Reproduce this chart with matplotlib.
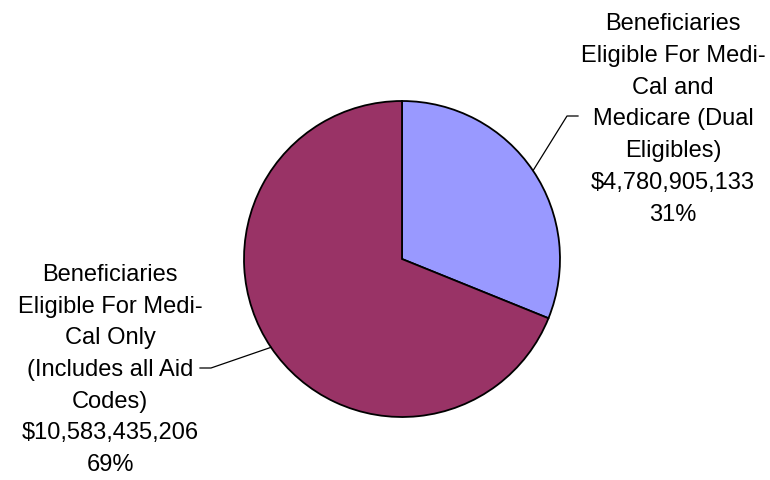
import numpy as np
import matplotlib
matplotlib.use('Agg')
import matplotlib.pyplot as plt

plt.rcParams['font.family'] = ['Liberation Sans', 'DejaVu Sans']

labels = ['Beneficiaries\nEligible For Medi-\nCal and\nMedicare (Dual\nEligibles)',
          'Beneficiaries\nEligible For Medi-\nCal Only\n(Includes all Aid\nCodes)']
amounts = [4780905133, 10583435206]
colors = ['#9999FF', '#993366']

fig = plt.figure(figsize=(7.7, 4.81), dpi=100)
ax = fig.add_axes([0, 0, 1, 1])

cx, cy, r = 402, 221, 158
wedges, _ = ax.pie(amounts, startangle=90, counterclock=False, colors=colors,
                   center=(cx, cy), radius=r,
                   wedgeprops=dict(edgecolor='black', linewidth=1.3))
ax.set_xlim(0, 770)
ax.set_ylim(0, 481)
ax.set_aspect('equal')
ax.axis('off')

total = sum(amounts)
# label anchor (elbow x, elbow y, end x, text x, text y)
label_pos = [(567, 364, 578, 673, 361.5),
             (211, 112, 200, 110, 111)]
for w, lab, amt, (ex, ey, tx_end, lx, ly) in zip(wedges, labels, amounts, label_pos):
    mid = np.deg2rad((w.theta1 + w.theta2) / 2)
    sx, sy = cx + r * np.cos(mid), cy + r * np.sin(mid)
    ax.plot([sx, ex, tx_end], [sy, ey, ey], color='black', lw=0.9)
    pct = round(amt / total * 100)
    txt = f"{lab}\n${amt:,}\n{pct}%"
    ax.text(lx, ly, txt, ha='center', va='center', fontsize=17,
            linespacing=1.57, multialignment='center')

fig.savefig('out.png', dpi=100)
